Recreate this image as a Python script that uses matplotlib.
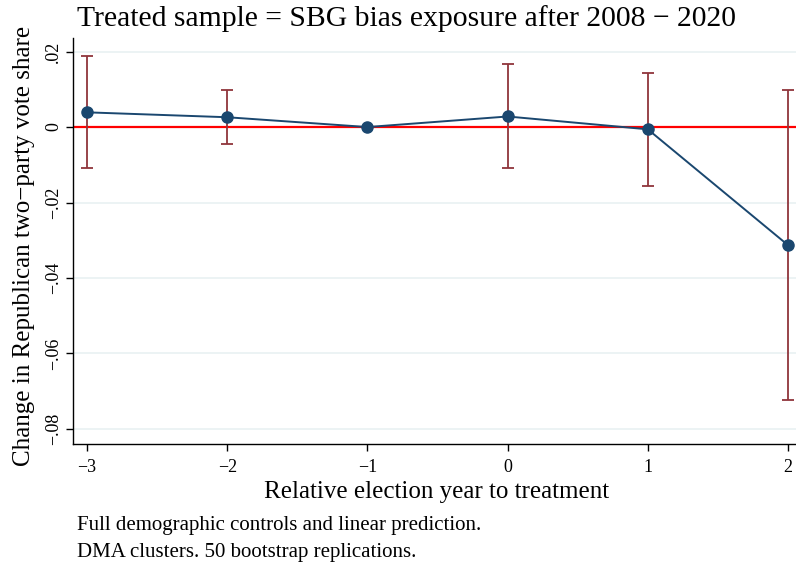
import matplotlib
matplotlib.use("Agg")
import matplotlib.pyplot as plt
import numpy as np

plt.rcParams['font.family'] = ['Liberation Serif', 'DejaVu Serif']

# event-study estimates
rel_year = [-3, -2, -1, 0, 1, 2]
coef = [0.0039, 0.0026, 0.0, 0.0028, -0.0006, -0.0313]
ci_low = [-0.0109, -0.0045, 0.0, -0.0108, -0.0156, -0.0723]
ci_high = [0.0188, 0.0098, 0.0, 0.0167, 0.0144, 0.0098]

y_ticks = [0.02, 0.0, -0.02, -0.04, -0.06, -0.08]
y_tick_labels = [".02", "0", "\u2212.02", "\u2212.04", "\u2212.06", "\u2212.08"]
x_tick_labels = ["\u22123", "\u22122", "\u22121", "0", "1", "2"]

navy = "#1a476f"
maroon = "#90353b"

W, H = 796, 568
fig = plt.figure(figsize=(W / 100, H / 100), dpi=100)
ax = fig.add_axes([73 / W, 124 / H, 1 - 73 / W, 406 / H])

for yt in y_ticks:
    ax.axhline(yt, color="#eaf2f3", lw=1.3, zorder=0)

ax.axhline(0, color="red", lw=1.6, zorder=1)

x = np.array(rel_year)
c = np.array(coef)
lo = np.array(ci_low)
hi = np.array(ci_high)
has_ci = hi > lo
ax.errorbar(x[has_ci], c[has_ci], yerr=[c[has_ci] - lo[has_ci], hi[has_ci] - c[has_ci]],
            fmt="none", ecolor=maroon, elinewidth=1.3, capsize=4.5, capthick=1.3, zorder=2)
ax.plot(x, c, color=navy, lw=1.4, marker="o", ms=8, mfc=navy, mec=navy, zorder=3)

ax.set_xlim(-3.1, 2.057)
ax.set_ylim(-0.084, 0.0236)
ax.set_xticks(rel_year)
ax.set_xticklabels(x_tick_labels, fontsize=13)
ax.set_yticks(y_ticks)
ax.set_yticklabels(y_tick_labels, fontsize=13, rotation=90, va="center")

for s in ["top", "right"]:
    ax.spines[s].set_visible(False)
ax.spines["left"].set_linewidth(1.0)
ax.spines["bottom"].set_linewidth(1.0)
ax.tick_params(axis="both", direction="out", length=5, width=1.0)
ax.tick_params(axis="x", pad=6)
ax.tick_params(axis="y", pad=3)

# titles and notes
fig.text(437 / W, 1 - 498 / H, "Relative election year to treatment",
         ha="center", va="baseline", fontsize=18)
fig.text(24 / W, 1 - 246 / H, "Change in Republican two\u2212party vote share",
         ha="center", va="center", rotation=90, fontsize=18)
fig.text(77 / W, 1 - 26 / H, "Treated sample = SBG bias exposure after 2008 \u2212 2020",
         ha="left", va="baseline", fontsize=21.3)

fig.text(77 / W, 1 - 530 / H, "Full demographic controls and linear prediction.",
         ha="left", va="baseline", fontsize=15)
fig.text(77 / W, 1 - 557 / H, "DMA clusters. 50 bootstrap replications.",
         ha="left", va="baseline", fontsize=15)

fig.savefig("out.png", dpi=100)
